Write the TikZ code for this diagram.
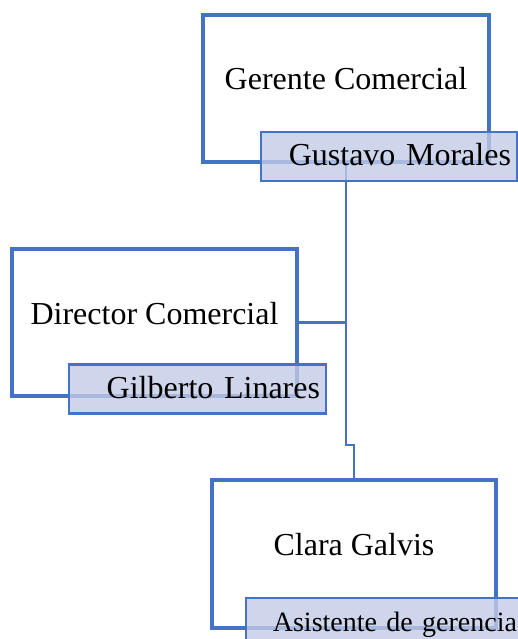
\documentclass[tikz,border=0pt]{standalone}
\usepackage{fontspec}
\setmainfont{Liberation Serif}
\definecolor{boxedge}{HTML}{4472C4}
\definecolor{namefill}{HTML}{C3CBE5}
\definecolor{linkcolor}{HTML}{4472C4}
\tikzset{
  rolebox/.style={rectangle, draw=boxedge, fill=white, line width=3.5pt, minimum width=285pt, minimum height=147pt, inner sep=0pt, text height=22pt, text depth=19pt, font=\fontsize{32}{38}\selectfont},
  namebox/.style={rectangle, draw=boxedge, fill=namefill, fill opacity=0.8, text opacity=1, line width=2.5pt, minimum height=49pt, inner xsep=6pt, inner ysep=0pt, align=right, text height=22pt, text depth=4pt, font=\fontsize{32}{38}\selectfont},
  orgedge/.style={draw=linkcolor, line width=2.5pt}
}
\begin{document}
\begin{tikzpicture}[x=1pt,y=-1pt]
  \useasboundingbox (0,0) rectangle (518,639);
  \clip (0,0) rectangle (518,639);

  % role boxes
  \node[rolebox, minimum width=286pt] (gerente) at (346,88.5) {Gerente Comercial};
  \node[rolebox] (director) at (154.5,322.5) {Director Comercial};
  \node[rolebox, minimum width=284pt, minimum height=148pt] (clara) at (354,554) {Clara Galvis};

  % connectors
  \coordinate (jog) at (350,445);
  \draw[orgedge] (gerente.south) |- (jog) -| (clara.north);
  \draw[orgedge] (director.east) -- (director.east -| gerente.south);

  % name boxes
  \node[namebox, text width=244pt] (gustavo) at (389,156.5) {Gustavo Morales};
  \node[namebox, text width=245pt] (gilberto) at (197.5,389) {Gilberto Linares};
  \node[namebox, text width=265pt, font=\fontsize{28}{34}\selectfont] (asistente) at (384.5,622.5) {Asistente de gerencia};
\end{tikzpicture}
\end{document}
